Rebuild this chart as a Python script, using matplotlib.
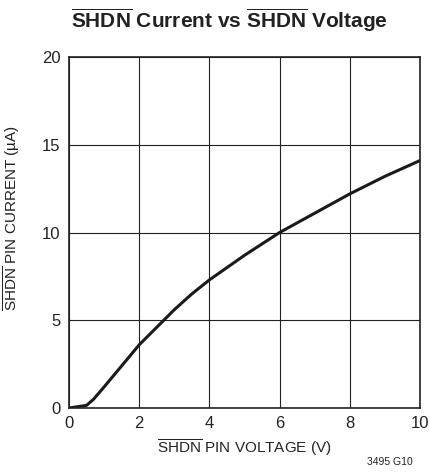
import matplotlib
matplotlib.use("Agg")
import matplotlib.pyplot as plt
import numpy as np

# SHDN pin voltage (V) vs SHDN pin current (uA)
voltage = [0, 0.5, 0.7, 1.0, 1.5, 2.0, 2.5, 3.0, 3.5, 4.0, 5.0, 6.0, 7.0, 8.0, 9.0, 10.0]
current = [0, 0.15, 0.5, 1.2, 2.4, 3.6, 4.6, 5.6, 6.5, 7.3, 8.7, 10.0, 11.1, 12.2, 13.2, 14.1]
xticks = [0, 2, 4, 6, 8, 10]
yticks = [0, 5, 10, 15, 20]

plt.rcParams['font.family'] = ['Liberation Sans', 'DejaVu Sans']
plt.rcParams['mathtext.fontset'] = 'custom'
plt.rcParams['mathtext.rm'] = 'Liberation Sans'
plt.rcParams['mathtext.bf'] = 'Liberation Sans:bold'

fig = plt.figure(figsize=(4.31, 4.74), dpi=100)
ax = fig.add_axes([69/431, 1-408/474, 351/431, 351/474])

ax.plot(voltage, current, color='#1a1a1a', lw=2.2, solid_capstyle='round')
ax.set_xlim(0, 10)
ax.set_ylim(0, 20)
ax.set_xticks(xticks)
ax.set_yticks(yticks)
ax.grid(True, color='#222222', lw=0.8)
ax.tick_params(length=0, labelsize=12, pad=6, colors='#222222')
for s in ax.spines.values():
    s.set_linewidth(1.2)
    s.set_color('#222222')

ax.set_xlabel(r'$\mathrm{\overline{SHDN}}$ PIN VOLTAGE (V)', fontsize=11, color='#222222', labelpad=4)
ax.set_ylabel(r'$\mathrm{\overline{SHDN}}$ PIN CURRENT (µA)', fontsize=11, color='#222222')
ax.yaxis.set_label_coords(-47/351, (408-218)/351)

fig.text(229/431, 1-20/474, r'$\mathbf{\overline{SHDN}}$ Current vs $\mathbf{\overline{SHDN}}$ Voltage',
         ha='center', va='center', fontsize=15, fontweight='bold', color='#222222')
fig.text(413/431, 1-462/474, '3495 G10', ha='right', va='center', fontsize=7.5, color='#222222')

fig.savefig('out.png', dpi=100)
